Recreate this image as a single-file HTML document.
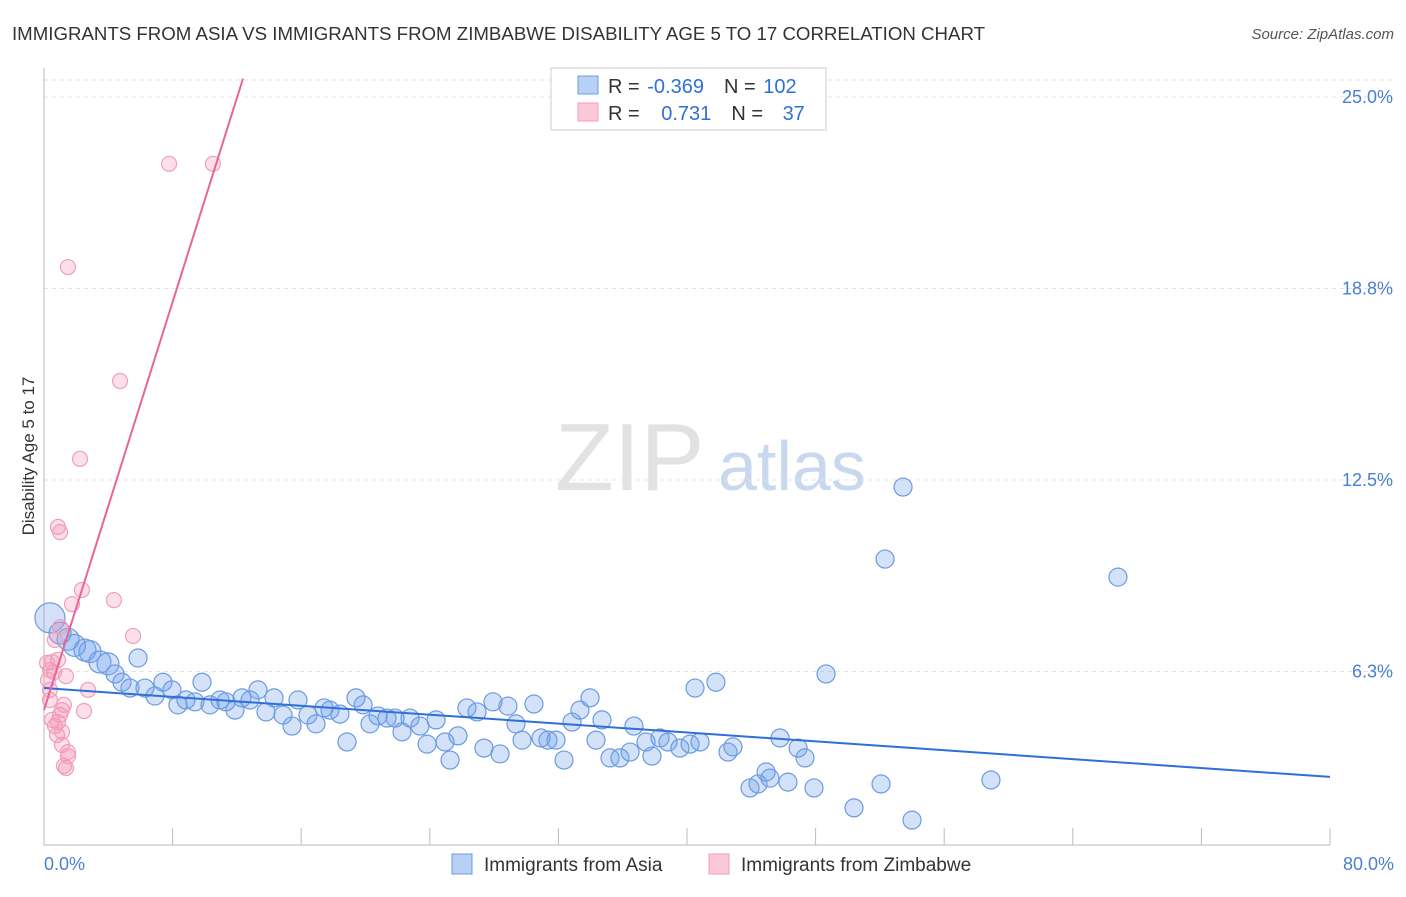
<!DOCTYPE html>
<html><head><meta charset="utf-8"><style>
body{margin:0;background:#fff;font-family:"Liberation Sans",sans-serif}
svg text{font-family:"Liberation Sans",sans-serif}
</style></head><body>
<svg id="c" width="1406" height="892">
<text x="12" y="40" font-size="18" fill="#333" textLength="973" lengthAdjust="spacingAndGlyphs">IMMIGRANTS FROM ASIA VS IMMIGRANTS FROM ZIMBABWE DISABILITY AGE 5 TO 17 CORRELATION CHART</text>
<text x="1394" y="39" font-size="15" fill="#555" text-anchor="end" font-style="italic">Source: ZipAtlas.com</text>
<text x="34" y="456" font-size="17" fill="#333" text-anchor="middle" transform="rotate(-90 34 456)">Disability Age 5 to 17</text>
<text x="555" y="490" font-size="96" fill="#e2e2e2" font-family="Liberation Serif">ZIP</text>
<text x="718" y="490" font-size="70" fill="#c8d8ef">atlas</text>
<g id="grid"></g><g id="pts"></g><g id="trend"></g>
<g>
<rect x="551" y="68" width="275" height="62" fill="#fff" stroke="#ccc"/>
<rect x="578" y="76" width="20" height="18" fill="#b8d0f4" stroke="#6b9be0"/>
<rect x="578" y="103" width="20" height="18" fill="#fbc8d8" stroke="#f0a0b8"/>
<text x="608" y="93" font-size="20" fill="#333">R = <tspan dx="2" fill="#2f6fd8">-0.369</tspan><tspan dx="20">N = </tspan><tspan dx="2" fill="#2f6fd8">102</tspan></text>
<text x="608" y="120" font-size="20" fill="#333">R = <tspan dx="16" fill="#2f6fd8">0.731</tspan><tspan dx="20">N = </tspan><tspan dx="14" fill="#2f6fd8">37</tspan></text>
</g>
<g>
<rect x="452" y="854" width="20" height="20" fill="#b8d0f4" stroke="#6b9be0"/>
<text x="484" y="871" font-size="19" fill="#333">Immigrants from Asia</text>
<rect x="709" y="854" width="20" height="20" fill="#fbc8d8" stroke="#f0a0b8"/>
<text x="741" y="871" font-size="19" fill="#333">Immigrants from Zimbabwe</text>
</g>
</svg>
<script>
const blueX=[0.37,1.0,1.5,1.9,2.55,2.86,3.48,3.98,4.42,4.85,5.35,5.85,6.28,6.9,7.4,7.96,8.33,8.83,9.39,9.83,10.33,10.95,11.32,11.88,12.32,12.82,13.31,13.81,14.31,14.87,15.43,15.8,16.42,16.92,17.42,17.79,18.41,18.85,19.41,19.85,20.28,20.78,21.34,21.84,22.27,22.77,23.39,23.83,24.39,24.95,25.26,25.75,26.31,26.94,27.37,27.93,28.37,28.86,29.36,29.74,30.48,30.92,31.35,31.85,32.35,32.85,33.34,33.97,34.34,34.71,35.21,35.83,36.46,36.7,37.45,37.82,38.32,38.82,39.56,40.19,40.81,40.5,41.8,42.55,42.86,43.92,44.42,44.92,45.16,45.79,46.28,46.91,47.34,47.9,48.65,50.39,52.07,52.32,53.44,54.0,58.91,66.81];
const blueY=[8.0,7.5,7.3,7.1,6.95,6.9,6.56,6.5,6.17,5.9,5.71,6.69,5.71,5.45,5.9,5.65,5.16,5.32,5.26,5.9,5.16,5.32,5.26,4.99,5.39,5.32,5.65,4.93,5.39,4.83,4.47,5.32,4.83,4.54,5.06,4.99,4.86,3.95,5.39,5.16,4.54,4.8,4.73,4.73,4.28,4.73,4.47,3.88,4.67,3.95,3.36,4.15,5.06,4.93,3.75,5.26,3.56,5.12,4.54,4.01,5.19,4.08,4.01,4.01,3.36,4.6,4.99,5.39,4.01,4.67,3.43,3.43,3.62,4.47,3.95,3.49,4.08,3.95,3.75,3.88,3.95,5.71,5.9,3.62,3.79,2.45,2.58,2.97,2.77,4.08,2.64,3.75,3.43,2.45,6.17,1.8,2.58,9.92,12.27,1.4,2.71,9.33];
const pinkX=[0.25,0.37,0.5,0.62,0.68,0.81,0.87,1.0,1.12,1.24,1.37,1.49,1.24,1.49,1.12,1.0,0.87,1.0,1.37,1.49,1.74,2.24,2.36,2.49,2.74,4.35,4.73,5.54,7.78,10.51,0.37,0.5,0.19,0.68,0.87,1.12,0.37];
const pinkY=[5.97,5.65,6.56,6.23,4.47,4.18,4.6,4.83,4.99,5.16,3.1,3.49,3.17,3.62,4.28,7.7,10.97,10.8,6.1,19.45,8.45,13.19,8.91,4.96,5.65,8.58,15.73,7.41,22.82,22.82,5.32,4.67,6.53,7.28,6.63,3.85,6.3];
const yTicks=[6.25,12.5,18.75,25];
const yTickLabels=["6.3%","12.5%","18.8%","25.0%"];
const blueTrend=[[0,5.71],[80,2.81]];
const pinkTrend=[[0,4.99],[12.38,25.6]];
const NS="http://www.w3.org/2000/svg";
const X=v=>44+v*1286/80, Y=v=>863-v*30.64;
function mk(t,a,p){const e=document.createElementNS(NS,t);for(const k in a)e.setAttribute(k,a[k]);p.appendChild(e);return e;}
const grid=document.getElementById('grid');
mk('line',{x1:44,y1:80,x2:1394,y2:80,stroke:'#ddd','stroke-dasharray':'4,4'},grid);
yTicks.forEach((t,i)=>{
 const l=mk('line',{x1:44,y1:Y(t),x2:1394,y2:Y(t),stroke:'#e4e4e4','stroke-dasharray':'4,4'},grid);
 
 
 const tx=mk('text',{x:1393,y:Y(t)+6,'font-size':18,fill:'#4a7fd4','text-anchor':'end'},grid);
 tx.textContent=yTickLabels[i];
 
 
});
mk('line',{x1:44,y1:68,x2:44,y2:845,stroke:'#bbb'},grid);
mk('line',{x1:44,y1:845,x2:1330,y2:845,stroke:'#bbb'},grid);
for(let i=1;i<=10;i++){const t=mk('line',{x1:X(i*8),y1:828,x2:X(i*8),y2:845,stroke:'#bbb'},grid);
 
 }
const xl0=mk('text',{x:44,y:870,'font-size':18,fill:'#4a7fd4'},grid);xl0.textContent='0.0%';


const xl1=mk('text',{x:1394,y:870,'font-size':18,fill:'#4a7fd4','text-anchor':'end'},grid);xl1.textContent='80.0%';


const pts=document.getElementById('pts');
blueX.forEach((x,i)=>{const r=i==0?15:(i<8?11:9);
 const c=mk('circle',{cx:X(x),cy:Y(blueY[i]),r:r,fill:'rgba(110,160,235,0.3)',stroke:'#6b9be0','stroke-width':1.2},pts);
 
 });
pinkX.forEach((x,i)=>{
 const c=mk('circle',{cx:X(x),cy:Y(pinkY[i]),r:7.5,fill:'rgba(245,150,180,0.3)',stroke:'#f0a0b8','stroke-width':1.2},pts);
 
 });
const tr=document.getElementById('trend');
const b=mk('line',{x1:X(blueTrend[0][0]),y1:Y(blueTrend[0][1]),x2:X(blueTrend[1][0]),y2:Y(blueTrend[1][1]),stroke:'#2f6fd8','stroke-width':2},tr);


const p=mk('line',{x1:X(pinkTrend[0][0]),y1:Y(pinkTrend[0][1]),x2:X(pinkTrend[1][0]),y2:Y(pinkTrend[1][1]),stroke:'#e8649a','stroke-width':2},tr);


</script>
</body></html>
